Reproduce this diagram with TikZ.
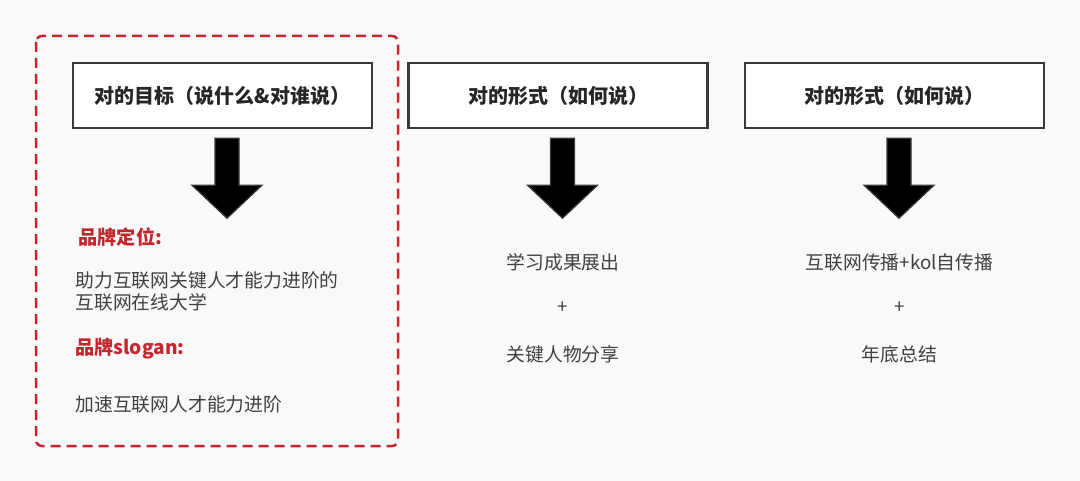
\documentclass[tikz,border=0pt]{standalone}
\usepackage{fontspec}
\newfontfamily\cjk{Noto Sans CJK SC}
\usepackage{tikz}
\usetikzlibrary{calc, positioning}
\usepackage{xcolor}
\definecolor{bgray}{HTML}{F9F9F9}
\definecolor{dred}{HTML}{C4262E}
\definecolor{frame}{HTML}{3A3A3A}
\definecolor{txt}{HTML}{404040}

\tikzset{
  titlebox/.style={draw=frame, line width=1.25pt, fill=white, minimum width=149.5pt, minimum height=32.5pt, inner sep=0pt, font=\cjk\bfseries\fontsize{10}{12}\selectfont, text=black!85},
  redlabel/.style={anchor=west, inner sep=0pt, text=dred, font=\cjk\bfseries\fontsize{9.6}{11}\selectfont},
  bodytext/.style={inner sep=0pt, text=txt, font=\cjk\fontsize{9.4}{11}\selectfont},
  blockarrow/.style={fill=black, draw=frame, line width=0.6pt}
}

\begin{document}
\begin{tikzpicture}[x=0.5pt, y=-0.5pt]
  \useasboundingbox (0,0) rectangle (1080,481);
  \fill[bgray] (0,0) rectangle (1080,481);
  % left group frame
  \draw[dred, line width=1.25pt, dash pattern=on 5pt off 3pt, rounded corners=3pt] (36,36) rectangle (398,446);
  % title boxes
  \node[titlebox] (t1) at (222.5,95.5) {对的目标（说什么\&对谁说）};
  \node[titlebox] (t2) at (558,95.5) {对的形式（如何说）};
  \node[titlebox] (t3) at (894.5,95.5) {对的形式（如何说）};
  % down arrows
  \foreach \b in {t1,t2,t3}
    \draw[blockarrow] ($(\b.south)+(4.5,9)$) ++(-12,0) -- ++(0,47) -- ++(-23,0) -- ++(35,33) -- ++(35,-33) -- ++(-23,0) -- ++(0,-47) -- cycle;
  % left column
  \node[redlabel] (pos) at (78,237) {品牌定位:};
  \node[bodytext, anchor=west, align=left] (posx) at (75,291) {助力互联网关键人才能力进阶的\\互联网在线大学};
  \node[redlabel] (slo) at (75,349) {品牌slogan:};
  \node[bodytext, anchor=west] (slox) at (75,404) {加速互联网人才能力进阶};
  % middle column
  \node[bodytext] (m1) at (563,262) {学习成果展出};
  \node[bodytext] (m2) at (563,308) {+};
  \node[bodytext] (m3) at (563,354) {关键人物分享};
  % right column
  \node[bodytext] (r1) at (899.5,262) {互联网传播+kol自传播};
  \node[bodytext] (r2) at (899.5,308) {+};
  \node[bodytext] (r3) at (899.5,354) {年底总结};
\end{tikzpicture}
\end{document}
